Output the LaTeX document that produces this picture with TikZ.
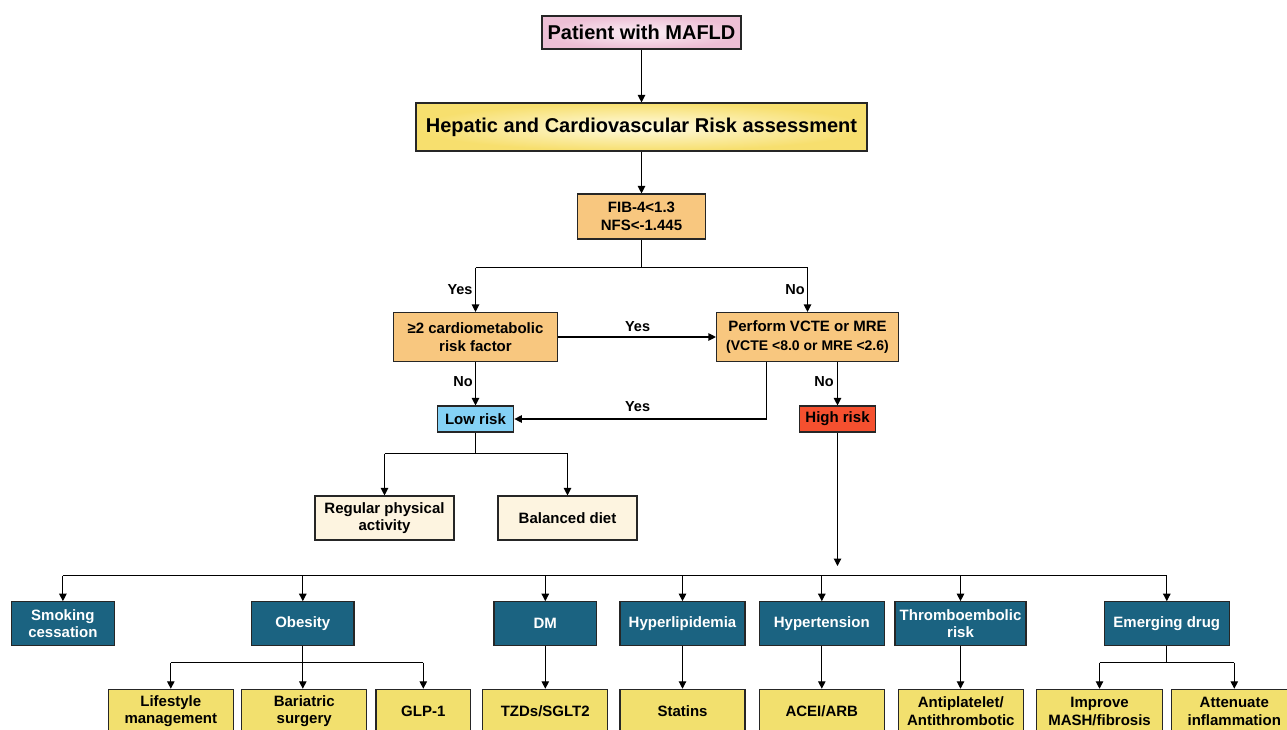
\documentclass[tikz,border=0pt]{standalone}
\usepackage{fontspec}
\setmainfont{Liberation Sans}
\usetikzlibrary{arrows.meta}
\definecolor{pinkout}{HTML}{EDBFD5}
\definecolor{pinkin}{HTML}{FBF0F6}
\definecolor{yelout}{HTML}{F7DF6E}
\definecolor{yelin}{HTML}{FFFBE2}
\definecolor{orangec}{HTML}{F8C77F}
\definecolor{lowc}{HTML}{84D1F5}
\definecolor{highc}{HTML}{F5502F}
\definecolor{creamc}{HTML}{FDF4E0}
\definecolor{bluec}{HTML}{1B6381}
\definecolor{yelc}{HTML}{F2E06E}
\begin{document}
\begin{tikzpicture}[x=1pt,y=-1pt,
  box/.style={draw=black!85, line width=1.1pt, align=center, inner sep=0pt,
    font={\fontsize{15}{17.5}\selectfont\bfseries}},
  obox/.style={box, fill=orangec},
  bbox/.style={box, fill=bluec, text=white, minimum height=44pt},
  ybox/.style={box, fill=yelc, minimum height=44pt},
  cbox/.style={box, fill=creamc, minimum width=139pt, minimum height=44pt},
  arr/.style={-{Triangle[length=7.5pt,width=7.5pt]}, line width=1.1pt},
  ln/.style={line width=1.1pt},
  lab/.style={font={\fontsize{14.5}{16}\selectfont\bfseries}, inner sep=0pt}]
\clip (0,0) rectangle (1287,730);
\fill[white] (0,0) rectangle (1287,730);

% top
\node[box, shading=radial, inner color=pinkin, outer color=pinkout,
  minimum width=199pt, minimum height=33pt,
  font={\fontsize{20}{22}\selectfont\bfseries}] (pat) at (641.5,32.5) {Patient with MAFLD};
\node[box, shading=radial, inner color=yelin, outer color=yelout,
  minimum width=451pt, minimum height=48pt,
  font={\fontsize{20}{22}\selectfont\bfseries}] (hep) at (641.5,127) {Hepatic and Cardiovascular Risk assessment};
\node[obox, minimum width=128pt, minimum height=45pt] (fib) at (641.5,216.5) {FIB-4<1.3\\NFS<-1.445};

\node[obox, minimum width=163.5pt, minimum height=49pt] (cm) at (475.5,337) {≥2 cardiometabolic\\risk factor};
\node[obox, minimum width=182pt, minimum height=49pt, font={\fontsize{15}{19}\selectfont\bfseries}] (perf) at (807.5,337)
  {Perform VCTE or MRE\\{\fontsize{14}{19}\selectfont (VCTE <8.0 or MRE <2.6)}};

\node[box, fill=lowc, minimum width=76.6pt, minimum height=26pt] (low) at (475.5,419) {Low risk};
\node[box, fill=highc, minimum width=76.4pt, minimum height=26pt] (high) at (837.5,419) {High risk};

\node[cbox] (reg) at (384.5,518) {Regular physical\\activity};
\node[cbox] (diet) at (567.5,518) {Balanced diet};

% blue row
\node[bbox, minimum width=102.3pt] (smoke) at (62.9,623.7) {Smoking\\cessation};
\node[bbox, minimum width=102.3pt] (obes) at (302.8,623.7) {Obesity};
\node[bbox, minimum width=102.7pt] (dm) at (545.3,623.7) {DM};
\node[bbox, minimum width=125pt] (hyperl) at (682.5,623.7) {Hyperlipidemia};
\node[bbox, minimum width=125pt] (hypert) at (821.8,623.7) {Hypertension};
\node[bbox, minimum width=131pt] (thromb) at (960.5,623.7) {Thromboembolic\\risk};
\node[bbox, minimum width=125pt] (emerg) at (1166.8,623.7) {Emerging drug};

% yellow row
\node[ybox, minimum width=125pt] (life) at (170.8,711.3) {Lifestyle\\management};
\node[ybox, minimum width=125pt] (bari) at (304.2,711.3) {Bariatric\\surgery};
\node[ybox, minimum width=94.7pt] (glp) at (423.3,711.3) {GLP-1};
\node[ybox, minimum width=125pt] (tzd) at (545.2,711.3) {TZDs/SGLT2};
\node[ybox, minimum width=125pt] (stat) at (682.5,711.3) {Statins};
\node[ybox, minimum width=125pt] (acei) at (821.8,711.3) {ACEI/ARB};
\node[ybox, minimum width=125pt] (anti) at (960.8,711.3) {Antiplatelet/\\Antithrombotic};
\node[ybox, minimum width=125.6pt] (impr) at (1099.5,711.3) {Improve\\MASH/fibrosis};
\node[ybox, minimum width=125pt] (att) at (1234.3,711.3) {Attenuate\\inflammation};

% connectors top
\draw[arr] (pat.south) -- (hep.north);
\draw[arr] (hep.south) -- (fib.north);
\coordinate (fj) at (641.5,267.5);
\draw[ln] (fib.south) -- (fj);
\draw[ln] (cm.north |- fj) -- (perf.north |- fj);
\draw[arr] (cm.north |- fj) -- (cm.north);
\draw[arr] (perf.north |- fj) -- (perf.north);
\node[lab] (y1) at (460,290) {Yes};
\node[lab] (n1) at (795,290) {No};

\draw[arr] (cm.east) -- (perf.west);
\node[lab] (y2) at (637.6,327) {Yes};
\draw[arr] (cm.south) -- (low.north);
\node[lab] (n2) at (463,382) {No};
\draw[arr] ([xshift=-41pt]perf.south) |- (low.east);
\node[lab] (y3) at (637.6,407) {Yes};
\draw[arr] (perf.south -| high.north) -- (high.north);
\node[lab] (n3) at (824,382) {No};

\coordinate (lj) at (475.5,453.5);
\draw[ln] (low.south) -- (lj);
\draw[ln] (reg.north |- lj) -- (diet.north |- lj);
\draw[arr] (reg.north |- lj) -- (reg.north);
\draw[arr] (diet.north |- lj) -- (diet.north);

\coordinate (hb) at (837.5,566);
\draw[arr] (high.south) -- (hb);
\coordinate (bus) at (700,575.5);
\draw[ln] (smoke.north |- bus) -- (emerg.north |- bus);
\foreach \n in {smoke,obes,dm,hyperl,hypert,thromb,emerg}
  \draw[arr] (\n.north |- bus) -- (\n.north);

% sub connectors
\coordinate (ob) at (302.8,662.5);
\draw[ln] (obes.south) -- (ob);
\draw[ln] (life.north |- ob) -- (glp.north |- ob);
\draw[arr] (life.north |- ob) -- (life.north);
\draw[arr] (glp.north |- ob) -- (glp.north);
\draw[arr] (obes.south) -- (obes.south |- bari.north);
\draw[arr] (dm.south) -- (dm.south |- tzd.north);
\draw[arr] (hyperl.south) -- (stat.north);
\draw[arr] (hypert.south) -- (acei.north);
\draw[arr] (thromb.south) -- (thromb.south |- anti.north);
\coordinate (ej) at (1166.8,662.5);
\draw[ln] (emerg.south) -- (ej);
\draw[ln] (impr.north |- ej) -- (att.north |- ej);
\draw[arr] (impr.north |- ej) -- (impr.north);
\draw[arr] (att.north |- ej) -- (att.north);
\end{tikzpicture}
\end{document}
